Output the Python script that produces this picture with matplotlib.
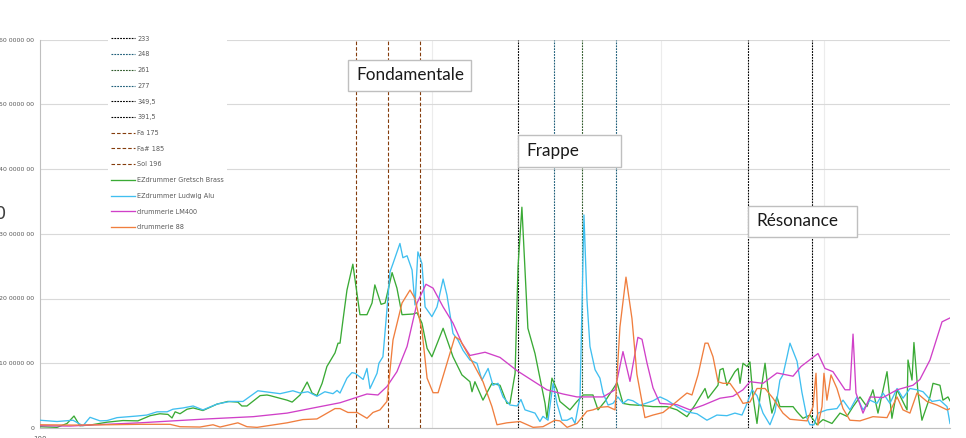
import numpy as np
import matplotlib
matplotlib.use("Agg")
import matplotlib.pyplot as plt
from matplotlib.ticker import FixedLocator, NullFormatter
from matplotlib.patches import Rectangle

# ---------------- data (frequency in Hz, amplitude in millions) ----------------
green_freq = [100.0, 103.05, 104.9, 106.2, 107.3, 109.25, 112.6, 115.8, 118.9, 121.5, 123.6, 125.4, 126.3, 127.0,
              128.1, 129.7, 131.1, 133.4, 136.8, 137.5, 139.4, 141.9, 142.9, 144.2, 147.6, 149.4, 150.2, 154.8,
              156.2, 158.4, 160.4, 161.8, 163.2, 164.7, 166.1, 167.6, 168.5, 169.4, 170.0, 170.9, 172.1, 173.9,
              176.1, 178.3, 179.9, 180.8, 182.8, 184.1, 186.4, 188.0, 189.7, 193.4, 194.8, 196.5, 198.3, 200.0,
              204.0, 207.6, 210.9, 213.9, 214.7, 215.8, 218.9, 222.4, 225.6, 228.4, 229.6, 231.7, 232.9, 234.5,
              237.0, 240.0, 244.3, 245.1, 247.3, 249.5, 250.8, 255.3, 258.5, 261.3, 265.9, 268.3, 271.6, 277.5,
              280.4, 283.9, 289.0, 295.7, 303.1, 308.5, 314.0, 318.5, 321.3, 324.2, 325.9, 328.8, 331.7, 332.9,
              334.7, 337.0, 341.8, 343.7, 344.9, 346.7, 349.2, 351.0, 352.9, 355.4, 357.3, 360.5, 362.4, 364.9,
              368.2, 370.1, 374.8, 378.8, 381.5, 385.5, 390.3, 395.2, 399.4, 405.8, 411.6, 416.7, 421.2, 426.4,
              431.7, 436.3, 440.2, 447.3, 451.2, 455.3, 463.4, 464.2, 467.5, 469.1, 472.5, 475.8, 482.6, 485.2,
              491.2, 493.8, 498.2, 500.0]
green_vals = [0.2, 0.1, 0.7, 1.85, 0.35, 0.45, 0.9, 1.15, 1.1, 1.9, 2.2, 2.1, 1.55, 2.5,
              2.2, 2.9, 3.1, 2.7, 3.7, 3.8, 4.1, 4.0, 3.4, 3.4, 5.0, 5.1, 5.0, 4.3,
              4.0, 5.1, 7.1, 5.4, 5.0, 6.9, 9.5, 10.8, 11.6, 13.1, 13.1, 16.7, 21.3, 25.3,
              17.5, 17.5, 19.3, 22.1, 19.1, 19.3, 24.0, 21.6, 17.5, 17.6, 17.8, 16.2, 12.3, 11.0,
              15.4, 11.0, 8.2, 7.15, 5.6, 7.15, 4.3, 6.9, 6.6, 3.8, 3.8, 8.45, 24.9, 34.1,
              15.4, 11.5, 3.8, 1.5, 7.7, 5.9, 4.1, 2.8, 4.1, 5.1, 5.1, 2.8, 4.1, 7.0,
              3.8, 3.6, 3.5, 3.3, 3.3, 2.8, 1.75, 3.55, 4.8, 6.1, 4.6, 5.6, 6.6, 9.0,
              9.2, 6.6, 8.7, 9.2, 6.9, 10.0, 9.5, 10.2, 4.8, 0.7, 4.8, 10.0, 6.0, 2.3,
              4.8, 3.3, 3.3, 3.3, 2.5, 1.5, 2.0, 0.5, 1.3, 0.7, 2.3, 1.8, 3.3, 4.8,
              3.3, 5.9, 2.3, 8.7, 1.5, 5.9, 2.8, 10.5, 7.4, 13.2, 5.4, 1.2, 4.8, 6.9,
              6.6, 4.3, 4.8, 4.2]

blue_freq = [100.0, 103.05, 106.0, 107.9, 109.25, 111.2, 112.6, 114.6, 118.7, 120.8, 123.0, 125.2, 126.5, 128.8,
             131.1, 133.4, 136.8, 139.9, 143.2, 147.0, 150.2, 152.9, 156.4, 158.4, 160.6, 163.2, 165.5, 167.9,
             169.1, 170.0, 172.1, 173.6, 174.6, 177.1, 178.3, 179.25, 181.5, 182.1, 183.4, 184.7, 185.7, 186.7,
             189.0, 190.0, 191.4, 193.1, 194.1, 195.1, 196.5, 197.6, 200.0, 201.8, 204.0, 205.4, 207.6, 209.4,
             211.3, 213.9, 216.6, 218.5, 220.9, 222.8, 224.8, 226.8, 229.6, 232.5, 234.1, 235.8, 240.0, 242.1,
             243.4, 245.6, 247.8, 249.5, 251.7, 254.0, 256.2, 257.6, 259.9, 261.7, 263.1, 264.5, 266.9, 269.2,
             270.7, 273.1, 275.5, 277.9, 280.4, 282.9, 285.4, 289.0, 295.7, 299.4, 303.1, 308.5, 314.0, 319.6,
             325.3, 331.1, 337.0, 341.8, 346.1, 349.2, 352.3, 355.4, 359.2, 363.65, 366.9, 370.1, 372.1, 374.8,
             376.75, 381.5, 384.8, 388.3, 390.3, 393.1, 395.9, 402.2, 409.4, 413.8, 418.9, 424.2, 428.7, 434.0,
             439.4, 444.1, 449.6, 455.3, 460.1, 465.8, 471.6, 476.7, 484.3, 491.2, 497.4, 500.0]
blue_vals = [1.2, 1.0, 1.2, 0.35, 1.65, 1.1, 1.15, 1.6, 1.85, 2.0, 2.5, 2.5, 2.9, 3.1,
             3.4, 2.8, 3.7, 4.1, 4.1, 5.75, 5.5, 5.3, 5.75, 5.4, 5.6, 4.9, 5.6, 5.3,
             5.8, 5.4, 7.7, 8.55, 8.45, 7.5, 9.2, 6.1, 8.45, 10.0, 11.0, 18.2, 24.1, 25.4,
             28.5, 26.3, 26.6, 24.4, 19.0, 27.2, 25.4, 18.7, 17.2, 18.7, 23.0, 20.5, 14.6, 13.6,
             12.0, 10.5, 10.0, 7.4, 9.2, 6.6, 6.9, 4.8, 3.55, 3.4, 4.4, 2.8, 2.3, 1.0,
             1.8, 1.2, 6.9, 3.8, 1.2, 1.2, 1.6, 0.7, 4.8, 32.9, 19.8, 12.6, 9.0, 7.7,
             5.4, 3.55, 3.8, 4.8, 3.8, 4.4, 4.2, 3.5, 4.2, 4.8, 4.3, 3.3, 2.5, 2.2,
             1.2, 2.0, 1.9, 2.3, 2.0, 3.8, 5.9, 5.0, 2.3, 0.5, 2.5, 7.4, 8.2, 11.0,
             13.1, 10.3, 5.5, 1.5, 0.5, 0.5, 2.3, 2.8, 3.0, 4.3, 2.8, 4.8, 2.8, 4.3,
             3.8, 5.4, 3.8, 6.1, 4.6, 6.1, 5.9, 5.6, 4.1, 4.3, 3.3, 0.7]

magenta_freq = [100.0, 105.45, 109.25, 119.35, 126.5, 134.4, 137.5, 145.8, 154.8, 164.1, 170.0, 176.1, 178.3,
                181.8, 184.7, 188.0, 191.4, 194.8, 197.9, 200.4, 204.0, 207.6, 210.9, 213.9, 219.7, 225.6,
                232.5, 239.2, 245.1, 252.2, 258.5, 270.7, 276.5, 280.4, 283.9, 287.9, 290.0, 292.6, 295.7,
                299.4, 308.5, 315.7, 323.0, 332.9, 340.6, 346.7, 351.0, 359.2, 368.2, 378.8, 384.2, 395.9,
                400.8, 406.5, 415.3, 418.9, 421.2, 423.4, 428.7, 434.0, 444.1, 455.3, 468.3, 474.1, 482.6,
                493.0, 500.0]
magenta_vals = [0.35, 0.3, 0.46, 0.8, 1.1, 1.4, 1.5, 1.75, 2.3, 3.3, 3.9, 4.9, 5.25,
                5.1, 6.4, 8.7, 12.6, 19.3, 22.2, 21.6, 18.7, 16.2, 13.1, 11.2, 11.7, 10.9,
                8.85, 7.26, 5.9, 5.25, 4.8, 4.8, 5.9, 11.8, 7.2, 14.0, 13.7, 10.0, 6.2,
                3.8, 3.6, 2.8, 3.5, 4.6, 4.9, 5.9, 7.15, 6.9, 8.5, 8.0, 9.5, 11.5,
                9.2, 8.7, 5.9, 5.9, 14.5, 5.4, 2.3, 4.8, 4.7, 5.9, 6.6, 7.5, 10.5,
                16.4, 17.0]

orange_freq = [100.0, 106.0, 112.6, 119.35, 125.85, 128.1, 132.7, 135.8, 137.5, 141.9, 144.2, 146.8, 154.8,
               159.2, 163.2, 168.5, 170.0, 172.4, 175.2, 178.3, 180.2, 182.45, 184.7, 186.7, 189.7, 192.4,
               194.1, 196.5, 198.3, 200.4, 202.2, 205.4, 208.3, 210.2, 215.1, 218.9, 222.4, 224.4, 228.4,
               233.7, 239.2, 243.4, 248.6, 250.8, 254.0, 258.5, 263.1, 265.9, 269.2, 273.1, 276.5, 278.9,
               281.9, 284.9, 287.4, 291.5, 295.7, 301.0, 306.3, 311.8, 314.0, 316.8, 320.2, 324.2, 325.9,
               328.8, 331.7, 334.7, 338.8, 343.0, 346.7, 351.0, 355.4, 360.5, 365.6, 372.1, 376.75, 383.5,
               388.3, 392.4, 394.5, 395.9, 398.7, 400.1, 402.2, 405.1, 409.4, 413.8, 418.9, 426.4, 436.3,
               447.3, 455.3, 460.1, 465.8, 471.6, 480.0, 488.6, 497.4, 500.0]
orange_vals = [0.5, 0.45, 0.5, 0.57, 0.57, 0.2, 0.15, 0.5, 0.15, 0.8, 0.2, 0.1, 0.8,
               1.3, 1.4, 3.0, 3.0, 2.4, 2.4, 1.5, 2.4, 2.8, 4.1, 13.6, 19.3, 21.3,
               20.0, 15.1, 7.7, 5.45, 5.45, 10.0, 14.1, 13.6, 10.0, 7.15, 3.3, 0.5, 0.8,
               1.0, 0.1, 0.2, 1.2, 1.1, 0.1, 0.7, 2.6, 2.8, 3.2, 3.3, 2.8, 15.6,
               23.3, 16.9, 8.3, 1.6, 2.0, 2.4, 3.6, 4.9, 5.4, 5.1, 8.2, 13.1, 13.1,
               11.0, 7.15, 6.9, 6.9, 5.4, 3.8, 4.0, 6.1, 6.1, 4.6, 2.3, 1.35, 1.2,
               1.1, 3.3, 8.45, 0.46, 3.3, 8.45, 4.3, 8.2, 6.1, 3.0, 1.2, 1.1, 1.75,
               1.6, 4.8, 2.8, 2.3, 5.4, 4.1, 3.55, 2.8, 3.0]

series_names = ["EZdrummer Gretsch Brass", "EZdrummer Ludwig Alu", "drummerie LM400", "drummerie 88"]
series_colors = ["#3aaa35", "#40bff0", "#d040c8", "#f07e3e"]

ref_freqs = [233, 248, 261, 277, 349.5, 391.5, 175, 185, 196]
ref_labels = ["233", "248", "261", "277", "349,5", "391,5", "Fa 175", "Fa# 185", "Sol 196"]
ref_colors = ["#000000", "#1f5f7a", "#2f5a2a", "#1f5f7a", "#000000", "#000000", "#843c0c", "#843c0c", "#843c0c"]
ref_dotted = [True, True, True, True, True, True, False, False, False]

y_ticks = [0, 10, 20, 30, 40, 50, 60]
y_ticklabels = ["0", "10 0000 00", "20 0000 00", "30 0000 00", "40 0000 00", "50 0000 00", "60 0000 00"]

annotations = [("Fondamentale", 348, 60, 123, 31), ("Frappe", 518, 135, 103, 32), ("Résonance", 748, 206, 109, 31)]

# ---------------- figure ----------------
W, H = 966, 438
fig = plt.figure(figsize=(W / 100, H / 100), dpi=100)
fig.patch.set_facecolor("white")


def fx(x):
    return x / W


def fy(y):
    return 1 - y / H


ax = fig.add_axes([fx(40), fy(428), (950 - 40) / W, (428 - 39.5) / H])
ax.set_xscale("log")
ax.set_xlim(100, 500)
ax.set_ylim(0, 60)

ax.set_yticks(y_ticks)
ax.set_yticklabels(y_ticklabels)
ax.xaxis.set_major_locator(FixedLocator([100]))
ax.set_xticklabels(["100"])
ax.xaxis.set_minor_locator(FixedLocator([200, 300, 400]))
ax.xaxis.set_minor_formatter(NullFormatter())
ax.tick_params(axis="y", length=0, pad=4.2, labelsize=4.5, labelcolor="#595959")
ax.tick_params(axis="x", which="major", length=0, pad=5.8, labelsize=5, labelcolor="#595959")
ax.tick_params(axis="x", which="minor", length=0)

ax.grid(axis="y", which="major", color="#d9d9d9", lw=0.8, zorder=0)
ax.grid(axis="x", which="minor", color="#ececec", lw=0.8, zorder=0)
ax.set_axisbelow(True)
for s in ["top", "right"]:
    ax.spines[s].set_visible(False)
ax.spines["left"].set_color("#bfbfbf")
ax.spines["bottom"].set_color("#bfbfbf")
ax.spines["left"].set_linewidth(0.8)
ax.spines["bottom"].set_linewidth(0.8)

for f, lab, c, dotted in zip(ref_freqs, ref_labels, ref_colors, ref_dotted):
    ls = (0, (1.6, 1.0)) if dotted else (0, (3.2, 1.8))
    ax.axvline(f, color=c, lw=0.8, ls=ls, label=lab, zorder=2)

for fr, vals, name, c in zip([green_freq, blue_freq, magenta_freq, orange_freq],
                             [green_vals, blue_vals, magenta_vals, orange_vals],
                             series_names, series_colors):
    ax.plot(fr, vals, color=c, lw=0.95, label=name, zorder=3)

leg = ax.legend(loc="upper left", bbox_to_anchor=(fx(108), fy(33)), bbox_transform=fig.transFigure,
                borderaxespad=0, borderpad=0.4, handlelength=3.8, handletextpad=0.3, labelspacing=1.49,
                fontsize=4.7, frameon=True, fancybox=False, edgecolor="none", facecolor="white", framealpha=1)
for t in leg.get_texts():
    t.set_color("#595959")
leg.set_zorder(5)

for text, x, y, w, h in annotations:
    rect = Rectangle((fx(x), fy(y + h)), w / W, h / H, transform=fig.transFigure,
                     facecolor="white", edgecolor="#bfbfbf", lw=1.0, zorder=6)
    fig.patches.append(rect)
    fig.text(fx(x + 8), fy(y + h / 2), text, ha="left", va="center", fontsize=12.3,
             family=["Lato", "DejaVu Sans"], color="#1a1a1a", zorder=7)

fig.text(fx(6), fy(214), "0", ha="right", va="center", fontsize=13, color="#404040")

fig.savefig("out.png", dpi=100, facecolor="white")
